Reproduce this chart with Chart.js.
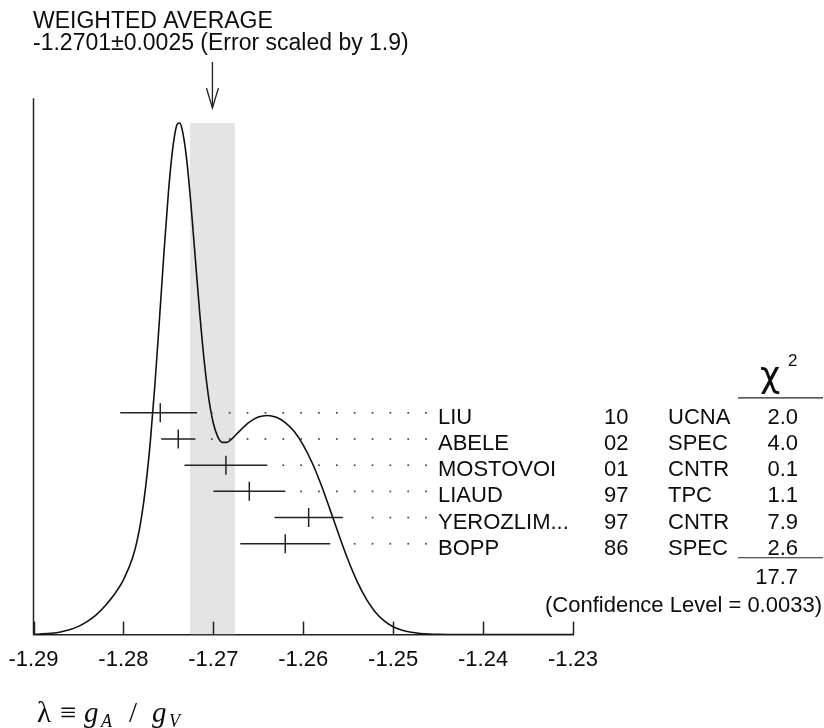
<!DOCTYPE html>
<html><head><meta charset="utf-8">
<script src="https://cdn.jsdelivr.net/npm/chart.js@4/dist/chart.umd.min.js"></script>
<style>html,body{margin:0;padding:0;background:#fff;}canvas{display:block;}</style>
</head><body>
<canvas id="c" width="824" height="728"></canvas>
<script>
// ---- data ----
const names = ['LIU','ABELE','MOSTOVOI','LIAUD','YEROZLIM...','BOPP'];
const years = ['10','02','01','97','97','86'];
const techniques = ['UCNA','SPEC','CNTR','TPC','CNTR','SPEC'];
const values = [-1.27590,-1.2739,-1.2686,-1.2660,-1.2594,-1.2620];
const errLow = [0.00445,0.0019,0.0046,0.0040,0.0038,0.0050];
const errHigh = [0.00409,0.0019,0.0046,0.0040,0.0038,0.0050];
const chi2 = ['2.0','4.0','0.1','1.1','7.9','2.6'];
const chi2Total = '17.7';
const confidenceLevel = '0.0033';
const weightedAverage = -1.2701;
const weightedError = 0.0025;
const errorScale = '1.9';
const xTicks = [-1.29,-1.28,-1.27,-1.26,-1.25,-1.24,-1.23];
const ideoX = [-1.290,-1.289,-1.288,-1.287,-1.286,-1.285,-1.284,-1.283,-1.282,-1.281,-1.280,
  -1.279,-1.2785,-1.278,-1.2775,-1.277,-1.2765,-1.276,-1.2755,-1.275,-1.2745,-1.274,-1.27375,-1.2735,
  -1.273,-1.2725,-1.272,-1.2715,-1.271,-1.2705,-1.270,-1.2695,-1.269,-1.2685,-1.268,-1.267,-1.266,
  -1.265,-1.264,-1.263,-1.262,-1.261,-1.260,-1.259,-1.258,-1.257,-1.256,-1.255,-1.254,-1.253,-1.252,
  -1.251,-1.250,-1.249,-1.248,-1.247,-1.246,-1.245,-1.243,-1.230];
const ideoY = [0.0002,0.0005,0.0010,0.0019,0.0034,0.0058,0.0093,0.0141,0.0206,0.0285,0.0387,
  0.0539,0.0657,0.0825,0.1058,0.1371,0.1764,0.2220,0.2690,0.3122,0.3444,0.3609,0.3616,0.3580,
  0.3379,0.3048,0.2655,0.2263,0.1925,0.1666,0.1494,0.1398,0.1359,0.1359,0.1380,0.1444,0.1502,
  0.1538,0.1549,0.1536,0.1499,0.1435,0.1340,0.1213,0.1057,0.0880,0.0698,0.0525,0.0374,0.0252,0.0160,
  0.0097,0.0055,0.0030,0.0016,0.0008,0.0004,0.0002,0.0000,0.0000];

// ---- build ----
const FONT = '"Liberation Sans", Arial, Helvetica, sans-serif';
const SERIF = '"Liberation Serif", "Times New Roman", serif';
const INK = '#0d0d0d';
const bandTop = Math.max(...ideoY);
const barData = [];
values.forEach((v,i)=>{ barData.push({x:v-errLow[i],y:i},{x:v+errHigh[i],y:i},{x:null,y:null}); });
const centerData = values.map((v,i)=>({x:v,y:i}));

const decor = {
  id:'decor',
  afterDatasetsDraw(chart){
    const ctx = chart.ctx, xs = chart.scales.x, rs = chart.scales.rows, ca = chart.chartArea;
    ctx.save();
    ctx.strokeStyle = '#222'; ctx.lineWidth = 1.5;
    ctx.beginPath(); ctx.moveTo(ca.left, ca.top); ctx.lineTo(ca.left, ca.bottom); ctx.stroke();
    xs.ticks.forEach(t=>{
      const px = Math.round(xs.getPixelForValue(t.value))+0.5;
      ctx.beginPath(); ctx.moveTo(px, ca.bottom); ctx.lineTo(px, ca.bottom-13); ctx.stroke();
    });
    // dotted leaders
    const labelX = 438;
    ctx.fillStyle = '#444';
    values.forEach((v,i)=>{
      const hi = xs.getPixelForValue(v+errHigh[i]);
      const py = rs.getPixelForValue(i);
      for(let dx = labelX-12; dx > hi+12; dx -= 17.85){ ctx.fillRect(dx-0.8, py-0.8, 1.7, 1.7); }
    });
    // table
    ctx.fillStyle = INK; ctx.font = '22px '+FONT; ctx.textBaseline = 'alphabetic';
    values.forEach((v,i)=>{
      const py = rs.getPixelForValue(i)+11;
      ctx.textAlign='left';
      ctx.fillText(names[i], labelX, py);
      ctx.fillText(years[i], 604, py);
      ctx.fillText(techniques[i], 668, py);
      ctx.textAlign='right';
      ctx.fillText(chi2[i], 798, py);
    });
    const r0 = rs.getPixelForValue(0), r5 = rs.getPixelForValue(values.length-1);
    ctx.lineWidth = 1.2;
    ctx.beginPath(); ctx.moveTo(738, r0-15); ctx.lineTo(823, r0-15); ctx.stroke();
    ctx.beginPath(); ctx.moveTo(738, r5+14); ctx.lineTo(823, r5+14); ctx.stroke();
    ctx.textAlign='right';
    ctx.fillText(chi2Total, 798, r5+40);
    ctx.fillText('(Confidence Level = '+confidenceLevel+')', 822, r5+68);
    ctx.textAlign='left';
    ctx.font = '35px "DejaVu Sans", sans-serif';
    ctx.fillText('\u03C7', 760, r0-26);
    ctx.font = '17px '+FONT;
    ctx.fillText('2', 788, r0-47);
    // title + arrow
    ctx.font = '23px '+FONT;
    ctx.fillText('WEIGHTED AVERAGE', 33, 28);
    ctx.fillText(weightedAverage.toFixed(4)+'\u00B1'+weightedError.toFixed(4)+' (Error scaled by '+errorScale+')', 33, 50);
    const ax = xs.getPixelForValue(weightedAverage);
    ctx.lineWidth = 1.3;
    ctx.beginPath(); ctx.moveTo(ax, 62); ctx.lineTo(ax, 108); ctx.stroke();
    ctx.beginPath(); ctx.moveTo(ax-6, 88); ctx.lineTo(ax, 108); ctx.lineTo(ax+6, 88); ctx.stroke();
    // lambda label
    const base = 722;
    ctx.font = '29px '+SERIF; ctx.fillText('\u03BB', 37, base);
    ctx.fillText('\u2261', 60, base);
    ctx.fillText('/', 129, base);
    ctx.font = 'italic 29px '+SERIF; ctx.fillText('g', 84, base); ctx.fillText('g', 152, base);
    ctx.font = 'italic 18px '+SERIF; ctx.fillText('A', 101, base+5); ctx.fillText('V', 169, base+5);
    ctx.restore();
  }
};

new Chart(document.getElementById('c'), {
  data:{
    datasets:[
      {type:'line', data: ideoX.map((x,i)=>({x, y: ideoY[i]})), xAxisID:'x', yAxisID:'y', borderColor:'#111', borderWidth:1.6,
        pointRadius:0, cubicInterpolationMode:'monotone', fill:false, order:1},
      {type:'line', data: barData, xAxisID:'x', yAxisID:'rows', borderColor:'#222', borderWidth:1.5, pointRadius:0, spanGaps:false, fill:false, order:0},
      {type:'scatter', data: centerData, xAxisID:'x', yAxisID:'rows', pointStyle:'line', rotation:90, pointRadius:9.5,
        borderColor:'#222', borderWidth:1.5, order:0},
      {type:'line', data:[{x:weightedAverage-weightedError,y:bandTop},{x:weightedAverage+weightedError,y:bandTop}],
        xAxisID:'x', yAxisID:'y', borderWidth:0, pointRadius:0, fill:'origin', backgroundColor:'#e4e4e4', order:10}
    ]
  },
  options:{
    responsive:false, animation:false, devicePixelRatio:1,
    layout:{padding:{left:33.5, right:251, top:98.3, bottom:43}},
    plugins:{legend:{display:false}, tooltip:{enabled:false}},
    scales:{
      x:{type:'linear', axis:'x', position:'bottom', min:-1.29, max:-1.23,
        afterBuildTicks: s => { s.ticks = xTicks.map(v=>({value:v})); },
        afterFit: s => { s.paddingLeft = 0; s.paddingRight = 0; },
        grid:{display:false, drawTicks:false},
        border:{display:true, color:'#222', width:1.5},
        ticks:{font:{family:FONT, size:22}, color:INK, padding:12, callback:v=>v.toFixed(2), maxRotation:0, autoSkip:false}},
      y:{type:'linear', axis:'y', position:'left', display:false, min:0, max:0.3791},
      rows:{type:'linear', axis:'y', position:'left', display:false, min:-12.01, max:8.47, reverse:true}
    }
  },
  plugins:[decor]
});
</script>
</body></html>
